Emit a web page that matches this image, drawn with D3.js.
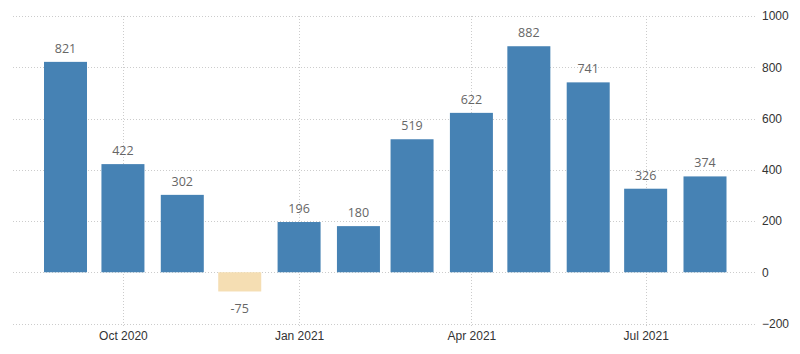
<!DOCTYPE html>
<html>
<head>
<meta charset="utf-8">
<script src="https://cdn.jsdelivr.net/npm/d3@7"></script>
<style>
  body { margin: 0; background: #fff; }
  svg { display: block; font-family: "Segoe UI", "Open Sans", "Liberation Sans", sans-serif; }
  .grid line { stroke: #ccc; stroke-dasharray: 1,2; }
  .axis text { fill: #333; font-size: 12px; }
  .axis path, .axis line { display: none; }
  .value { fill: #666; font-size: 12.5px; text-anchor: middle; }
</style>
</head>
<body>
<svg id="chart" width="800" height="354"></svg>
<script>
const months = ['2020-09', '2020-10', '2020-11', '2020-12', '2021-01', '2021-02',
                '2021-03', '2021-04', '2021-05', '2021-06', '2021-07', '2021-08'];
const values = [821, 422, 302, -75, 196, 180, 519, 622, 882, 741, 326, 374];
const yTicks = [-200, 0, 200, 400, 600, 800, 1000];
const xTicks = ['2020-10', '2021-01', '2021-04', '2021-07'];

const parse = d3.timeParse('%Y-%m');
const data = months.map((m, i) => ({date: parse(m), value: values[i]}));

const svg = d3.select('#chart');

const x = d3.scaleTime()
    .domain([parse('2020-09'), parse('2021-08')])
    .range([65.5, 705]);

const y = d3.scaleLinear()
    .domain([-200, 1000])
    .range([323.5, 16]);

const left = 13, right = 757;
const barWidth = 43;

// horizontal gridlines
svg.append('g')
    .classed('grid', true)
    .selectAll('line')
    .data(yTicks)
    .join('line')
    .attr('x1', left)
    .attr('x2', right)
    .attr('y1', d => Math.round(y(d)) + 0.5)
    .attr('y2', d => Math.round(y(d)) + 0.5);

// vertical gridlines
svg.append('g')
    .classed('grid', true)
    .selectAll('line')
    .data(xTicks.map(parse))
    .join('line')
    .attr('x1', d => Math.round(x(d)) + 0.5)
    .attr('x2', d => Math.round(x(d)) + 0.5)
    .attr('y1', y(1000))
    .attr('y2', y(-200) + 4);

// bars
svg.append('g')
    .selectAll('rect')
    .data(data)
    .join('rect')
    .attr('x', d => x(d.date) - barWidth / 2)
    .attr('width', barWidth)
    .attr('y', d => y(Math.max(0, d.value)))
    .attr('height', d => Math.abs(y(d.value) - y(0)))
    .attr('fill', d => d.value < 0 ? '#f5deb3' : '#4682b4');

// value labels
svg.append('g')
    .selectAll('text')
    .data(data)
    .join('text')
    .classed('value', true)
    .attr('x', d => x(d.date))
    .attr('y', d => d.value < 0 ? y(d.value) + 22 : y(d.value) - 9)
    .text(d => d.value);

// y axis on the right
svg.append('g')
    .classed('axis', true)
    .attr('transform', 'translate(' + (right + 5) + ',0)')
    .call(d3.axisRight(y).tickValues(yTicks).tickSize(0).tickPadding(0).tickFormat(d3.format('d')));

// x axis
svg.append('g')
    .classed('axis', true)
    .attr('transform', 'translate(0,' + (y(-200) + 5) + ')')
    .call(d3.axisBottom(x).tickValues(xTicks.map(parse)).tickSize(0).tickPadding(3).tickFormat(d3.timeFormat('%b %Y')));
</script>
</body>
</html>
